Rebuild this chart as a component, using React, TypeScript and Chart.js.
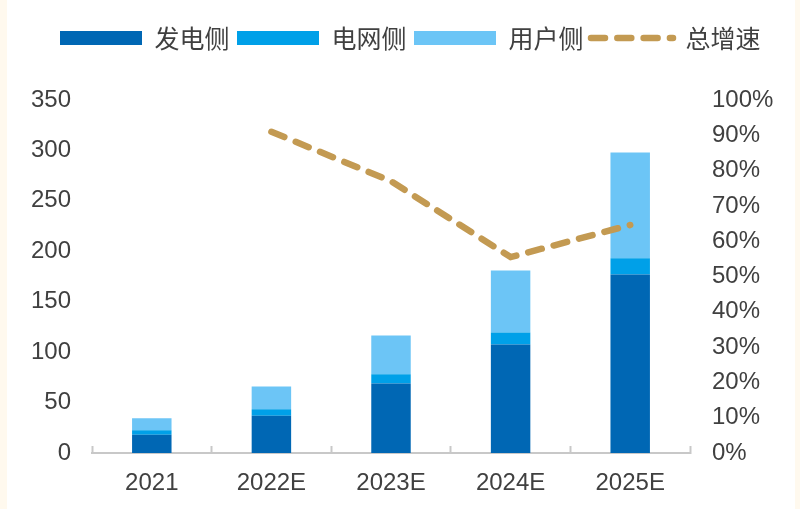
import React, { useEffect, useRef } from 'react';
import { Chart, registerables } from 'chart.js';

Chart.register(...registerables);

const categories = ['2021', '2022E', '2023E', '2024E', '2025E'];
const generationSide = [18, 37, 69, 107.5, 177];
const gridSide = [4.5, 6.5, 9, 12, 16];
const userSide = [12, 22.5, 38.5, 61.5, 105];
const totalGrowth = [null, 91, 77, 55.5, 64.6];

const seriesNames = ['发电侧', '电网侧', '用户侧', '总增速'];
const colors = ['#0067B4', '#00A0E8', '#6CC5F6', '#C39A52'];

const TEXT = '#404040';
const AXIS = '#C8C8C8';
const LATIN = '"Liberation Sans", Arial, sans-serif';
const CJK = '"Noto Sans CJK SC", "Noto Sans", sans-serif';

const legendSpacer = {
  id: 'legendSpacer',
  beforeInit(chart: any) {
    const legend = chart.legend;
    if (!legend) return;
    const orig = legend.fit;
    legend.fit = function () {
      orig.call(this);
      this.height += 39.5;
    };
  },
  afterLayout(chart: any) {
    if (chart.legend) chart.legend.left = 45.5;
  },
};

export default function App() {
  const ref = useRef<HTMLCanvasElement | null>(null);

  useEffect(() => {
    document.body.style.margin = '0';
    document.body.style.background = '#FFF9EE';
    if (!ref.current) return;
    const chart = new Chart(ref.current, {
      type: 'bar',
      data: {
        labels: categories,
        datasets: [
          {
            type: 'line',
            label: seriesNames[3],
            data: totalGrowth as any,
            yAxisID: 'y1',
            borderColor: colors[3],
            backgroundColor: colors[3],
            borderWidth: 6.5,
            borderDash: [14, 12.3],
            borderCapStyle: 'round',
            pointRadius: 0,
            tension: 0,
            order: 0,
          } as any,
          {
            label: seriesNames[0],
            data: generationSide,
            backgroundColor: colors[0],
            yAxisID: 'y',
            stack: 's',
            order: 1,
          },
          {
            label: seriesNames[1],
            data: gridSide,
            backgroundColor: colors[1],
            yAxisID: 'y',
            stack: 's',
            order: 1,
          },
          {
            label: seriesNames[2],
            data: userSide,
            backgroundColor: colors[2],
            yAxisID: 'y',
            stack: 's',
            order: 1,
          },
        ],
      },
      options: {
        responsive: false,
        animation: false,
        layout: { padding: { top: 18, left: 0, right: 0, bottom: 0 } },
        datasets: {
          bar: { barPercentage: 0.33, categoryPercentage: 1 },
        } as any,
        plugins: {
          tooltip: { enabled: false },
          legend: {
            position: 'top',
            align: 'start',
            labels: {
              usePointStyle: true,
              pointStyleWidth: 82,
              boxHeight: 14,
              padding: 7.5,
              color: TEXT,
              font: { family: CJK, size: 25 },
              generateLabels: () =>
                seriesNames.map((name, i) => ({
                  text: name,
                  fillStyle: colors[i],
                  strokeStyle: colors[i],
                  fontColor: TEXT,
                  lineWidth: i === 3 ? 6.5 : 0,
                  lineDash: i === 3 ? [14, 12.3] : [],
                  lineCap: 'round',
                  pointStyle: i === 3 ? 'line' : 'rect',
                  hidden: false,
                  datasetIndex: i,
                })) as any,
            },
          },
        },
        scales: {
          x: {
            stacked: true,
            grid: {
              display: true,
              drawOnChartArea: false,
              drawTicks: true,
              tickLength: -7,
              tickColor: AXIS,
              tickWidth: 2,
              offset: true,
            },
            border: { display: true, color: AXIS, width: 2 },
            ticks: {
              color: TEXT,
              font: { family: LATIN, size: 24 },
              padding: 23,
            },
            afterFit: (s: any) => {
              s.height = 56;
            },
          },
          y: {
            stacked: true,
            position: 'left',
            min: 0,
            max: 350,
            grid: { display: false, drawTicks: false, tickLength: 0 },
            border: { display: false },
            ticks: {
              stepSize: 50,
              color: TEXT,
              font: { family: LATIN, size: 24 },
              padding: 21,
            },
            afterFit: (s: any) => {
              s.width = 85;
            },
          },
          y1: {
            position: 'right',
            min: 0,
            max: 100,
            grid: { display: false, drawTicks: false, tickLength: 0 },
            border: { display: false },
            ticks: {
              stepSize: 10,
              color: TEXT,
              font: { family: LATIN, size: 24 },
              padding: 22,
              callback: (v: any) => v + '%',
            },
            afterFit: (s: any) => {
              s.width = 105;
            },
          },
        },
      },
      plugins: [legendSpacer],
    });
    return () => chart.destroy();
  }, []);

  return (
    <div style={{ marginLeft: 7, width: 788, height: 509, background: '#FFFFFF' }}>
      <canvas ref={ref} width={788} height={509} style={{ display: 'block' }} />
    </div>
  );
}
